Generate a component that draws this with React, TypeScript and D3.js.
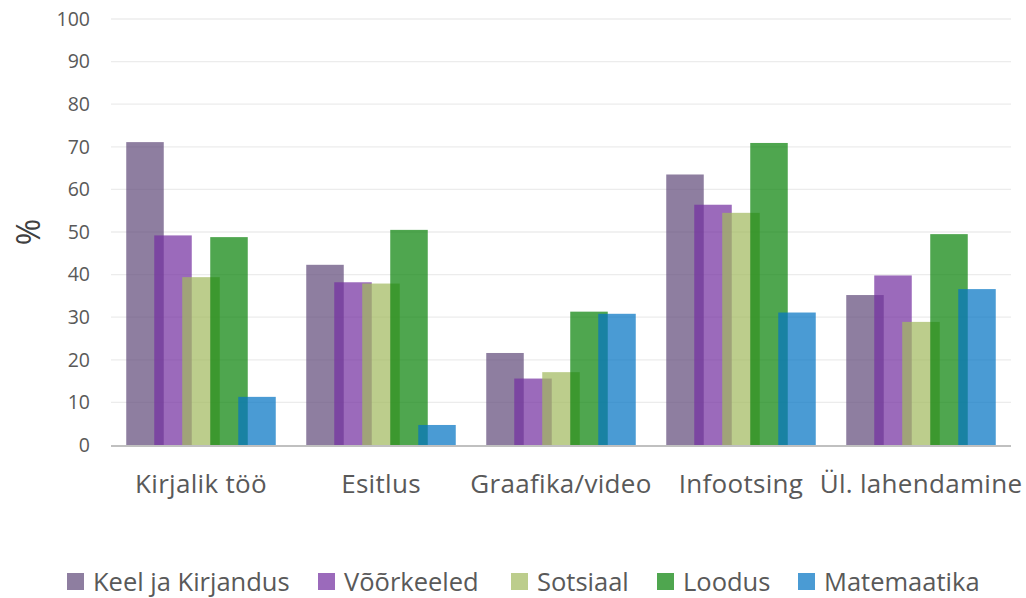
import React from "react";
import * as d3 from "d3";

const categories = ["Kirjalik töö", "Esitlus", "Graafika/video", "Infootsing", "Ül. lahendamine"];
const seriesNames = ["Keel ja Kirjandus", "Võõrkeeled", "Sotsiaal", "Loodus", "Matemaatika"];
const keel = [71.1, 42.3, 21.6, 63.5, 35.2];
const voor = [49.2, 38.2, 15.6, 56.4, 39.8];
const sots = [39.4, 37.9, 17.1, 54.5, 28.9];
const loodus = [48.8, 50.5, 31.3, 70.9, 49.5];
const mate = [11.3, 4.7, 30.8, 31.1, 36.6];
const seriesValues = [keel, voor, sots, loodus, mate];
const colors = ["#624c7b", "#7431a1", "#a2ba5f", "#0b830b", "#0474c3"];
const yTicks = [0, 10, 20, 30, 40, 50, 60, 70, 80, 90, 100];

const W = 1026, H = 598;
const left = 111, right = 1011, top = 19, bottom = 445;
const FONT = "'Open Sans', 'Noto Sans', sans-serif";

export default function App() {
  const x = d3.scaleBand<string>().domain(categories).range([left, right]).padding(0);
  const y = d3.scaleLinear().domain([0, 100]).range([bottom, top]);
  const inner = d3.scaleBand<string>().domain(seriesNames).range([0, 140]).padding(0);
  const barW = inner.step() * 1.34;
  const groupW = inner.step() * 4 + barW;
  const legendX = [67, 318, 511, 657, 798];

  return (
    <svg width={W} height={H} style={{ position: "absolute", left: 0, top: 0, background: "#fff" }}>
      {yTicks.map((t) => (
        <g key={t}>
          {t > 0 && <line x1={left} x2={right} y1={y(t)} y2={y(t)} stroke="#ececec" strokeWidth={1.3} />}
          <text x={90} y={y(t)} dy="0.35em" textAnchor="end" fontFamily={FONT} fontSize={19.5} fill="#595959">{t}</text>
        </g>
      ))}
      {seriesNames.map((s, si) => (
        <g key={s}>
          {categories.map((c, ci) => {
            const x0 = (x(c) as number) + x.bandwidth() / 2 - groupW / 2 + (inner(s) as number);
            const v = seriesValues[si][ci];
            return (
              <rect key={c} x={x0} y={y(v)} width={barW} height={y(0) - y(v)} fill={colors[si]} fillOpacity={0.72} />
            );
          })}
        </g>
      ))}
      <line x1={left} x2={right} y1={bottom + 1} y2={bottom + 1} stroke="#c0c0c0" strokeWidth={2} />
      {categories.map((c) => (
        <text key={c} x={(x(c) as number) + x.bandwidth() / 2} y={493} textAnchor="middle" fontFamily={FONT} fontSize={26} letterSpacing={0.3} fill="#595959">{c}</text>
      ))}
      <text transform={`translate(40,232) rotate(-90)`} textAnchor="middle" fontFamily={FONT} fontSize={32} fill="#404040">%</text>
      {seriesNames.map((s, i) => (
        <g key={s}>
          <rect x={legendX[i]} y={573} width={17} height={17} fill={colors[i]} fillOpacity={0.72} />
          <text x={legendX[i] + 26} y={581.5} dy="0.36em" fontFamily={FONT} fontSize={25.5} fill="#595959">{s}</text>
        </g>
      ))}
    </svg>
  );
}
